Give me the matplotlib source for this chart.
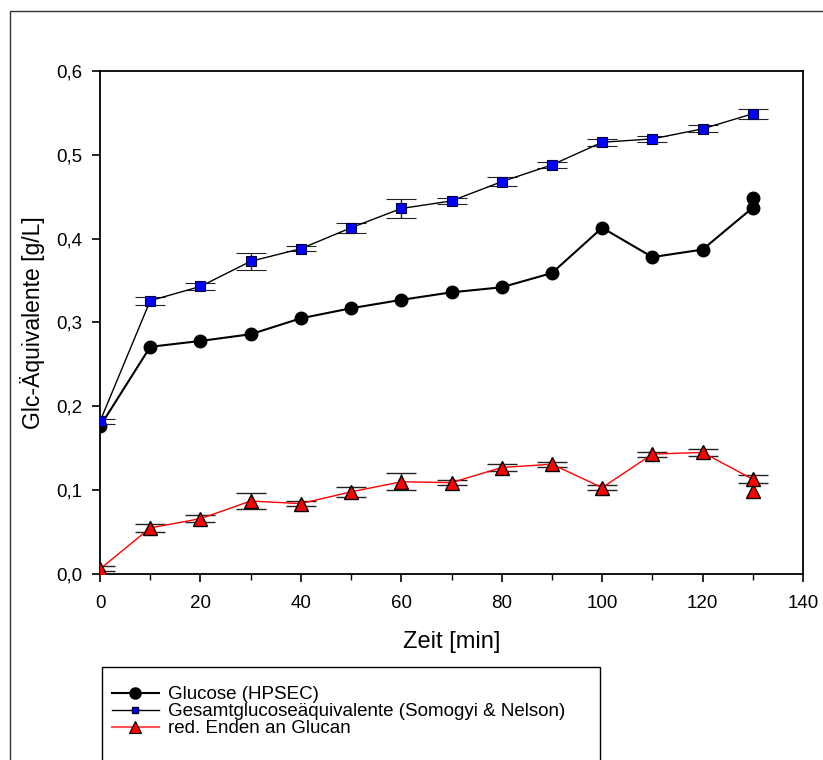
import numpy as np
import matplotlib
matplotlib.use("Agg")
import matplotlib.pyplot as plt
from matplotlib.lines import Line2D
from matplotlib.patches import Rectangle
from matplotlib.ticker import FuncFormatter, MultipleLocator

plt.rcParams["font.family"] = ["Liberation Sans", "DejaVu Sans"]

# time points [min]
zeit = [0, 10, 20, 30, 40, 50, 60, 70, 80, 90, 100, 110, 120, 130]

# Glucose (HPSEC)
glucose = [0.176, 0.271, 0.278, 0.286, 0.305, 0.317, 0.327, 0.336, 0.342, 0.359, 0.413, 0.378, 0.387, 0.437]
glucose_rep_x = [130]
glucose_rep = [0.449]

# Gesamtglucoseaequivalente (Somogyi & Nelson)
gesamt = [0.182, 0.326, 0.343, 0.373, 0.388, 0.413, 0.436, 0.445, 0.468, 0.488, 0.515, 0.519, 0.531, 0.549]
gesamt_err = [0.003, 0.005, 0.004, 0.010, 0.003, 0.006, 0.011, 0.004, 0.005, 0.004, 0.004, 0.004, 0.004, 0.006]

# red. Enden an Glucan
enden = [0.006, 0.055, 0.066, 0.087, 0.084, 0.098, 0.110, 0.109, 0.127, 0.131, 0.103, 0.143, 0.145, 0.113]
enden_err = [0.003, 0.005, 0.004, 0.010, 0.003, 0.006, 0.010, 0.003, 0.004, 0.003, 0.003, 0.003, 0.004, 0.005]
enden_rep_x = [130]
enden_rep = [0.099]

labels = ["Glucose (HPSEC)",
          "Gesamtglucoseäquivalente (Somogyi & Nelson)",
          "red. Enden an Glucan"]

fig = plt.figure(figsize=(8.23, 7.6), dpi=100)
ax = fig.add_axes([100 / 823, 1 - 574 / 760, 703 / 823, 503 / 760])

# outer frame of the page
fig.patches.append(Rectangle((10 / 823, -0.1), 1.2, 1 - 11 / 760 + 0.1,
                             transform=fig.transFigure, fill=False,
                             edgecolor="#333333", linewidth=1.0, clip_on=False))

err_kw = dict(ecolor="#222222", elinewidth=1.0, capsize=11, capthick=1.0)

ax.errorbar(zeit, enden, yerr=enden_err, color="red", linewidth=1.0,
            marker="^", markersize=10, markerfacecolor="red",
            markeredgecolor="black", markeredgewidth=1.0, zorder=3, **err_kw)
ax.plot(enden_rep_x, enden_rep, linestyle="none", marker="^", markersize=10,
        markerfacecolor="red", markeredgecolor="black", markeredgewidth=1.0, zorder=3)

ax.plot(zeit, glucose, color="black", linewidth=1.5, marker="o", markersize=9,
        markerfacecolor="black", markeredgecolor="black", zorder=4)
ax.plot(glucose_rep_x, glucose_rep, linestyle="none", marker="o", markersize=9,
        markerfacecolor="black", markeredgecolor="black", zorder=4)

ax.errorbar(zeit, gesamt, yerr=gesamt_err, color="black", linewidth=1.0,
            marker="s", markersize=6.5, markerfacecolor="#0000ff",
            markeredgecolor="#000033", markeredgewidth=0.8, zorder=5, **err_kw)

ax.set_xlim(0, 140)
ax.set_ylim(0, 0.6)
ax.xaxis.set_major_locator(MultipleLocator(20))
ax.xaxis.set_minor_locator(MultipleLocator(10))
ax.yaxis.set_major_locator(MultipleLocator(0.1))
ax.yaxis.set_major_formatter(FuncFormatter(lambda v, p: f"{v:.1f}".replace(".", ",")))
ax.tick_params(axis="both", which="major", direction="out", length=6, width=1.2,
               labelsize=13.5)
ax.tick_params(axis="x", which="major", pad=9)
ax.tick_params(axis="y", which="major", pad=7)
ax.tick_params(axis="x", which="minor", direction="out", length=4, width=1.0)
for sp in ax.spines.values():
    sp.set_linewidth(1.3)

ax.set_xlabel("Zeit [min]", fontsize=17, labelpad=14)
ax.set_ylabel("Glc-Äquivalente [g/L]", fontsize=16.5, labelpad=8)

# legend box runs off the bottom of the page
fig.patches.append(Rectangle((102 / 823, -0.1), 498 / 823, 0.1 + 1 - 667 / 760,
                             transform=fig.transFigure, fill=False,
                             edgecolor="black", linewidth=1.0, clip_on=False))
handles = [
    Line2D([], [], color="black", linewidth=1.5, marker="o", markersize=8,
           markerfacecolor="black"),
    Line2D([], [], color="black", linewidth=1.0, marker="s", markersize=5,
           markerfacecolor="#0000ff", markeredgecolor="#000033"),
    Line2D([], [], color="#ff5555", linewidth=1.5, marker="^", markersize=8,
           markerfacecolor="red", markeredgecolor="black", markeredgewidth=0.8),
]
fig.legend(handles, labels, loc="upper left", bbox_to_anchor=(112 / 823, 1 - 686 / 760),
           frameon=False, fontsize=13.5, handlelength=2.5, handletextpad=0.5,
           labelspacing=0.0, borderaxespad=0, borderpad=0)

fig.savefig("out.png", dpi=100)
